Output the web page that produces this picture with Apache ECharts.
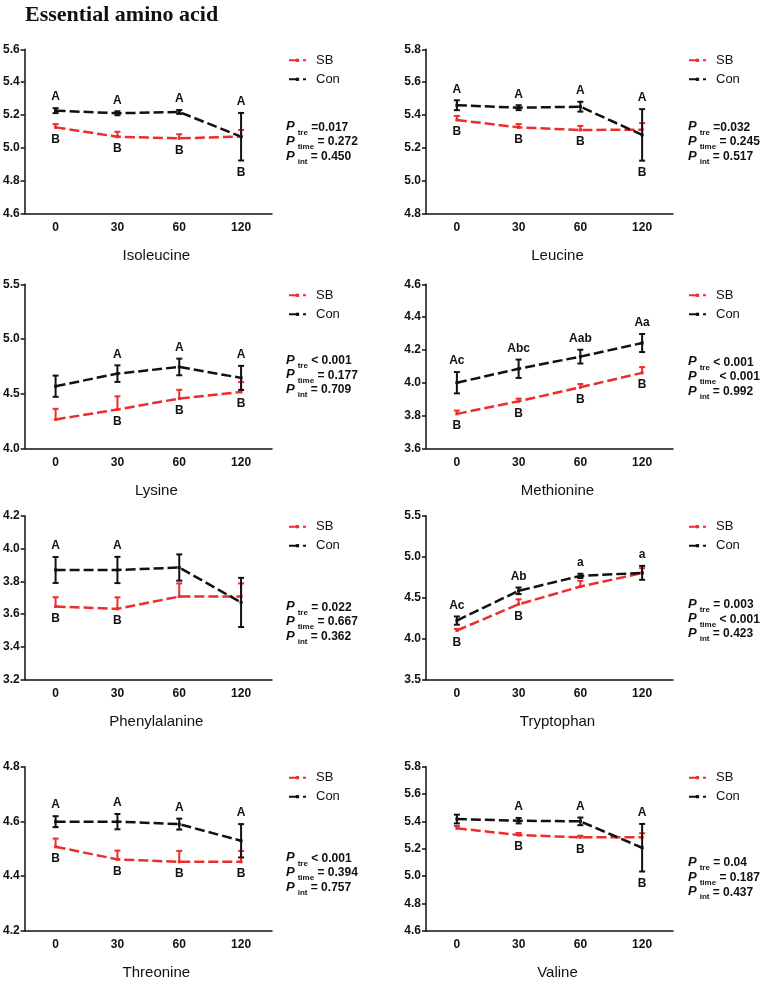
<!DOCTYPE html>
<html><head><meta charset="utf-8">
<script src="https://cdn.jsdelivr.net/npm/echarts@6/dist/echarts.min.js"></script>
<style>html,body{margin:0;padding:0;background:#fff}#c{width:762px;height:982px}</style>
</head><body><div id="c"></div>
<script>
// ---------- DATA ----------
const times = ['0', '30', '60', '120'];
const seriesNames = ['SB', 'Con'];
const pLabels = ['tre', 'time', 'int'];

const isoleucineSB = [5.124, 5.067, 5.057, 5.068];
const isoleucineSBErr = [0.02, 0.03, 0.025, 0.04];
const isoleucineCon = [5.226, 5.21, 5.218, 5.067];
const isoleucineConErr = [0.015, 0.012, 0.012, 0.145];
const isoleucineConSig = ['A', 'A', 'A', 'A'];
const isoleucineSBSig = ['B', 'B', 'B', 'B'];
const isoleucineP = ['=0.017', '= 0.272', '= 0.450'];
const isoleucineTicks = [4.6, 5.6, 0.2];

const leucineSB = [5.369, 5.324, 5.308, 5.31];
const leucineSBErr = [0.025, 0.02, 0.025, 0.04];
const leucineCon = [5.459, 5.444, 5.45, 5.278];
const leucineConErr = [0.03, 0.015, 0.03, 0.157];
const leucineConSig = ['A', 'A', 'A', 'A'];
const leucineSBSig = ['B', 'B', 'B', 'B'];
const leucineP = ['=0.032', '= 0.245', '= 0.517'];
const leucineTicks = [4.8, 5.8, 0.2];

const lysineSB = [4.264, 4.355, 4.455, 4.516];
const lysineSBErr = [0.097, 0.12, 0.08, 0.09];
const lysineCon = [4.568, 4.683, 4.744, 4.644];
const lysineConErr = [0.097, 0.076, 0.076, 0.11];
const lysineConSig = ['', 'A', 'A', 'A'];
const lysineSBSig = ['', 'B', 'B', 'B'];
const lysineP = ['< 0.001', '= 0.177', '= 0.709'];
const lysineTicks = [4.0, 5.5, 0.5];

const methionineSB = [3.81, 3.887, 3.972, 4.06];
const methionineSBErr = [0.02, 0.016, 0.02, 0.035];
const methionineCon = [4.0, 4.085, 4.159, 4.242];
const methionineConErr = [0.065, 0.056, 0.042, 0.055];
const methionineConSig = ['Ac', 'Abc', 'Aab', 'Aa'];
const methionineSBSig = ['B', 'B', 'B', 'B'];
const methionineP = ['< 0.001', '< 0.001', '= 0.992'];
const methionineTicks = [3.6, 4.6, 0.2];

const phenylalanineSB = [3.646, 3.632, 3.707, 3.707];
const phenylalanineSBErr = [0.057, 0.07, 0.08, 0.08];
const phenylalanineCon = [3.869, 3.869, 3.884, 3.671];
const phenylalanineConErr = [0.079, 0.08, 0.08, 0.15];
const phenylalanineConSig = ['A', 'A', '', ''];
const phenylalanineSBSig = ['B', 'B', '', ''];
const phenylalanineP = ['= 0.022', '= 0.667', '= 0.362'];
const phenylalanineTicks = [3.2, 4.2, 0.2];

const tryptophanSB = [4.10, 4.42, 4.636, 4.80];
const tryptophanSBErr = [0.02, 0.06, 0.07, 0.06];
const tryptophanCon = [4.221, 4.584, 4.766, 4.803];
const tryptophanConErr = [0.05, 0.04, 0.026, 0.085];
const tryptophanConSig = ['Ac', 'Ab', 'a', 'a'];
const tryptophanSBSig = ['B', 'B', '', ''];
const tryptophanP = ['= 0.003', '< 0.001', '= 0.423'];
const tryptophanTicks = [3.5, 5.5, 0.5];

const threonineSB = [4.507, 4.461, 4.452, 4.452];
const threonineSBErr = [0.03, 0.032, 0.04, 0.04];
const threonineCon = [4.599, 4.599, 4.59, 4.529];
const threonineConErr = [0.02, 0.028, 0.02, 0.061];
const threonineConSig = ['A', 'A', 'A', 'A'];
const threonineSBSig = ['B', 'B', 'B', 'B'];
const threonineP = ['< 0.001', '= 0.394', '= 0.757'];
const threonineTicks = [4.2, 4.8, 0.2];

const valineSB = [5.349, 5.3, 5.283, 5.283];
const valineSBErr = [0.017, 0.015, 0.012, 0.03];
const valineCon = [5.417, 5.405, 5.4, 5.207];
const valineConErr = [0.032, 0.02, 0.028, 0.174];
const valineConSig = ['', 'A', 'A', 'A'];
const valineSBSig = ['', 'B', 'B', 'B'];
const valineP = ['= 0.04', '= 0.187', '= 0.437'];
const valineTicks = [4.6, 5.8, 0.2];

const chartTitle = 'Essential amino acid';

// ---------- PANELS ----------
const panels = [
  ['Isoleucine', isoleucineSB, isoleucineSBErr, isoleucineCon, isoleucineConErr, isoleucineConSig, isoleucineSBSig, isoleucineP, isoleucineTicks],
  ['Leucine', leucineSB, leucineSBErr, leucineCon, leucineConErr, leucineConSig, leucineSBSig, leucineP, leucineTicks],
  ['Lysine', lysineSB, lysineSBErr, lysineCon, lysineConErr, lysineConSig, lysineSBSig, lysineP, lysineTicks],
  ['Methionine', methionineSB, methionineSBErr, methionineCon, methionineConErr, methionineConSig, methionineSBSig, methionineP, methionineTicks],
  ['Phenylalanine', phenylalanineSB, phenylalanineSBErr, phenylalanineCon, phenylalanineConErr, phenylalanineConSig, phenylalanineSBSig, phenylalanineP, phenylalanineTicks],
  ['Tryptophan', tryptophanSB, tryptophanSBErr, tryptophanCon, tryptophanConErr, tryptophanConSig, tryptophanSBSig, tryptophanP, tryptophanTicks],
  ['Threonine', threonineSB, threonineSBErr, threonineCon, threonineConErr, threonineConSig, threonineSBSig, threonineP, threonineTicks],
  ['Valine', valineSB, valineSBErr, valineCon, valineConErr, valineConSig, valineSBSig, valineP, valineTicks]
].map(a => ({name: a[0], sb: a[1], sbErr: a[2], con: a[3], conErr: a[4], conSig: a[5], sbSig: a[6], p: a[7], ticks: a[8]}));

// ---------- LAYOUT ----------
const RED = '#ec2d2d';
const BLACK = '#111111';
const FONT = "'Liberation Sans', Arial, sans-serif";
const colLeft = [23, 426];
const colWidth = [249, 247];
const rowTop = [49.3, 284.3, 515.7, 766.7];
const gridH = 164;
const legendLeft = [288, 688];
const pLeft = [286, 688];
const pFirstY = [128.3, 128.3, 361.7, 363.3, 608.3, 605.7, 859.3, 864];
const pStep = 14.6;

const grids = [], xAxes = [], yAxes = [], series = [], legends = [], graphics = [];

panels.forEach((p, k) => {
  const col = k % 2, row = Math.floor(k / 2);
  grids.push({left: colLeft[col], top: rowTop[row], width: colWidth[col], height: gridH, containLabel: false});
  xAxes.push({
    type: 'category', gridIndex: k, data: times, boundaryGap: true,
    axisLine: {show: true, lineStyle: {color: BLACK, width: 1.5}},
    axisTick: {show: false},
    axisLabel: {margin: 8, color: BLACK, fontWeight: 'bold', fontSize: 12, fontFamily: FONT},
    name: p.name, nameLocation: 'middle', nameGap: 35,
    nameTextStyle: {color: BLACK, fontSize: 15, fontFamily: FONT, padding: [0, 0, 0, 16]}
  });
  yAxes.push({
    type: 'value', gridIndex: k, min: p.ticks[0], max: p.ticks[1], interval: p.ticks[2],
    axisLine: {show: true, lineStyle: {color: BLACK, width: 1.5}},
    axisTick: {show: true, length: 4, lineStyle: {color: BLACK, width: 1.5}},
    splitLine: {show: false},
    axisLabel: {margin: 5, color: BLACK, fontWeight: 'bold', fontSize: 12, fontFamily: FONT,
      formatter: v => v.toFixed(1)}
  });
  const lineCommon = {
    type: 'line', xAxisIndex: k, yAxisIndex: k, symbol: 'rect', symbolSize: 3,
    showSymbol: true, animation: false, z: 2
  };
  series.push(Object.assign({}, lineCommon, {
    name: seriesNames[0], data: p.sb,
    lineStyle: {color: RED, width: 2.5, type: [10, 4]}, itemStyle: {color: RED}
  }));
  series.push(Object.assign({}, lineCommon, {
    name: seriesNames[1], data: p.con,
    lineStyle: {color: BLACK, width: 2.5, type: [10, 4]}, itemStyle: {color: BLACK}
  }));
  series.push({
    type: 'custom', name: 'bars' + k, xAxisIndex: k, yAxisIndex: k, z: 5, animation: false,
    data: times.map((t, i) => [i, p.con[i]]),
    encode: {x: 0, y: 1},
    renderItem: (params, api) => {
      const i = api.value(0);
      const ch = [];
      const cap = 3, lw = 2;
      const seg = (x1, y1, x2, y2, c) => ch.push({type: 'line', shape: {x1, y1, x2, y2}, style: {stroke: c, lineWidth: lw}});
      const sMid = api.coord([i, p.sb[i]]);
      const sTop = api.coord([i, p.sb[i] + p.sbErr[i]]);
      seg(sMid[0], sMid[1], sTop[0], sTop[1], RED);
      seg(sTop[0] - cap, sTop[1], sTop[0] + cap, sTop[1], RED);
      const cTop = api.coord([i, p.con[i] + p.conErr[i]]);
      const cBot = api.coord([i, p.con[i] - p.conErr[i]]);
      seg(cTop[0], cTop[1], cBot[0], cBot[1], BLACK);
      seg(cTop[0] - cap, cTop[1], cTop[0] + cap, cTop[1], BLACK);
      seg(cBot[0] - cap, cBot[1], cBot[0] + cap, cBot[1], BLACK);
      const txt = (t, x, y) => ch.push({type: 'text', x, y, style: {text: t, align: 'center', verticalAlign: 'middle', font: 'bold 12px ' + FONT, fill: BLACK}});
      if (p.conSig[i]) txt(p.conSig[i], cTop[0], Math.min(cTop[1], sTop[1]) - 11);
      if (p.sbSig[i]) txt(p.sbSig[i], sMid[0], Math.max(sMid[1], cBot[1]) + 12);
      return {type: 'group', children: ch};
    }
  });
  legends.push({
    data: seriesNames, orient: 'vertical', left: legendLeft[col], top: rowTop[row] + 4,
    padding: 0, itemWidth: 17, itemHeight: 4, itemGap: 5,
    textStyle: {color: BLACK, fontSize: 13, fontFamily: FONT, padding: [0, 0, 0, 5], lineHeight: 14},
    selectedMode: false
  });
  p.p.forEach((val, j) => {
    graphics.push({
      type: 'text', left: pLeft[col], top: pFirstY[k] + j * pStep - 8,
      style: {
        text: '{p|P}{s|' + pLabels[j] + '}{v| ' + val + '}',
        rich: {
          p: {font: 'italic bold 13px ' + FONT, fill: BLACK, verticalAlign: 'top', lineHeight: 16},
          s: {font: 'bold 8px ' + FONT, fill: BLACK, verticalAlign: 'top', padding: [8, 0, 0, 3], lineHeight: 9},
          v: {font: 'bold 12px ' + FONT, fill: BLACK, verticalAlign: 'top', padding: [1, 0, 0, 0], lineHeight: 15}
        }
      }
    });
  });
});

graphics.push({
  type: 'text', left: 25, top: 4,
  style: {text: chartTitle, font: 'bold 22px "Liberation Serif", "Times New Roman", serif', fill: BLACK}
});

const chart = echarts.init(document.getElementById('c'), null, {renderer: 'canvas'});
chart.setOption({
  animation: false,
  backgroundColor: '#fff',
  grid: grids, xAxis: xAxes, yAxis: yAxes, series, legend: legends, graphic: graphics
});
</script></body></html>
